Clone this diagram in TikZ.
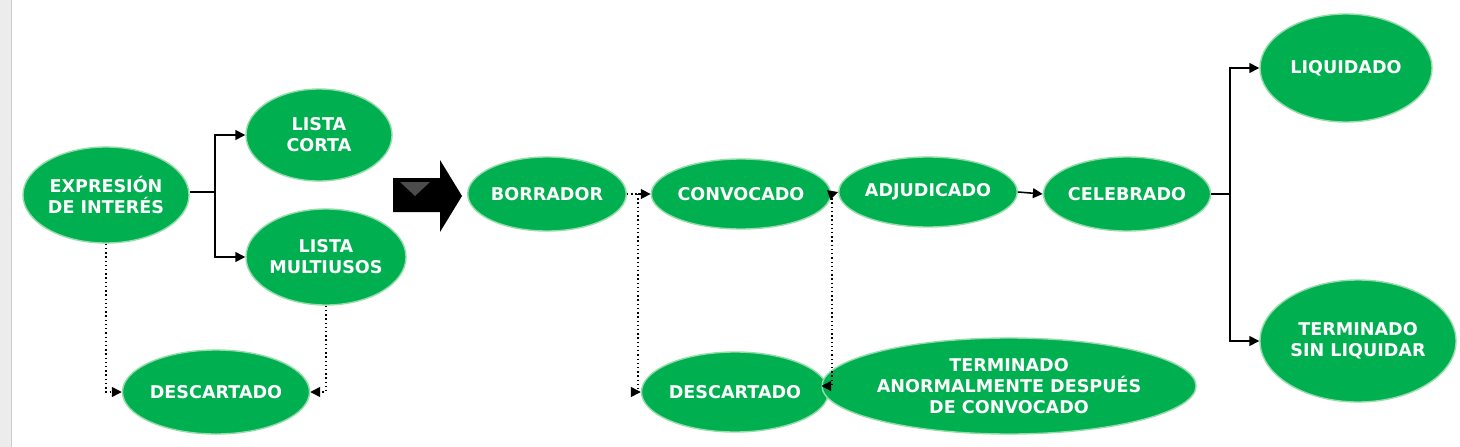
\documentclass[tikz,border=0pt]{standalone}
\usepackage{fontspec}
\setmainfont{DejaVu Sans}
\usetikzlibrary{shapes.geometric,arrows.meta}
\definecolor{estado}{RGB}{0,176,80}
\definecolor{borde}{RGB}{150,220,170}
\tikzset{
  est/.style={ellipse, fill=estado, draw=borde, line width=1pt, inner sep=0pt,
    text=white, font=\fontsize{12.5}{15}\selectfont\bfseries, align=center},
  paso/.style={-{Triangle[length=7pt,width=7pt]}, line width=1.1pt},
  baja/.style={-{Triangle[length=7pt,width=7pt]}, line width=1pt, dotted}
}
\begin{document}
\begin{tikzpicture}[x=0.025cm, y=-0.025cm]
  \useasboundingbox (0,0) rectangle (1460,447);
  \fill[gray!15] (0,0) rectangle (11,447);
  \draw[gray!40] (11,0) -- (11,447);

  % Etapa previa
  \node[est, minimum width=4.15cm, minimum height=2.4cm] (expr) at (106,195) {EXPRESIÓN\\DE INTERÉS};
  \node[est, minimum width=3.65cm, minimum height=2.3cm] (corta) at (319,135) {LISTA\\CORTA};
  \node[est, minimum width=4cm, minimum height=2.4cm] (multi) at (326,257) {LISTA\\MULTIUSOS};
  \node[est, minimum width=3.95cm, minimum height=2.1cm] (desc1) at (216,392) {DESCARTADO};

  % Flecha grande
  \fill[black] (393,178) -- (440,178) -- (440,160) -- (462,196) -- (440,232) -- (440,212) -- (393,212) -- cycle;
  \fill[gray!60!black] (400,182) -- (430,182) -- (415,196) -- cycle;

  % Proceso
  \node[est, minimum width=3.8cm, minimum height=1.85cm] (borr) at (547,194) {BORRADOR};
  \node[est, minimum width=3.75cm, minimum height=1.75cm] (conv) at (741,194) {CONVOCADO};
  \node[est, minimum width=4cm, minimum height=1.75cm] (adju) at (928,192) {ADJUDICADO};
  \node[est, minimum width=3.9cm, minimum height=1.85cm] (cele) at (1127,194) {CELEBRADO};
  \node[est, minimum width=4.3cm, minimum height=2.7cm] (liq) at (1346,68) {LIQUIDADO};
  \node[est, minimum width=4.9cm, minimum height=3.05cm] (term) at (1358,341) {TERMINADO\\SIN LIQUIDAR};
  \node[est, minimum width=4cm, minimum height=2cm] (desc2) at (735,392) {DESCARTADO};
  \node[est, minimum width=8cm, minimum height=2.4cm] (anor) at (1009,386) {TERMINADO\\ANORMALMENTE DESPUÉS\\DE CONVOCADO};

  \coordinate (e1) at (215,192);
  \coordinate (b1) at (638,194);
  \coordinate (c1) at (832,194);
  \coordinate (t1) at (1230,194);

  % Conectores
  \draw[line width=1.1pt] (expr.east |- e1) -- (e1);
  \draw[paso] (e1) |- (corta.west);
  \draw[paso] (e1) |- (multi.west);
  \draw[baja] (expr.south) |- (desc1.west);
  \draw[baja] (multi.south) |- (desc1.east);
  \draw[line width=1pt, dotted] (borr.east) -- (b1);
  \draw[paso] (b1) -- (conv.west);
  \draw[baja] (b1) |- (desc2.west);
  \draw[line width=1pt, dotted] (conv.east) -- (c1);
  \draw[paso] (c1) -- (adju.west);
  \draw[baja] (c1) |- (anor.west);
  \draw[paso] (adju.east) -- (cele.west);
  \draw[line width=1.1pt] (cele.east) -- (t1);
  \draw[paso] (t1) |- (liq.west);
  \draw[paso] (t1) |- (term.west);
\end{tikzpicture}
\end{document}
